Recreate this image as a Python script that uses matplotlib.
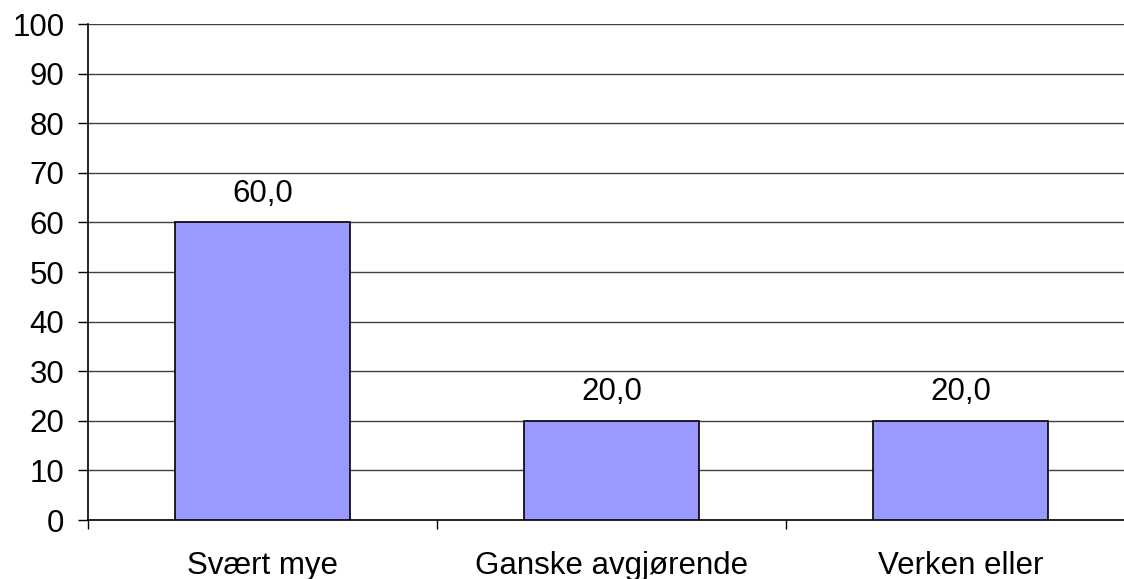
import matplotlib.pyplot as plt

categories = ["Svært mye", "Ganske avgjørende", "Verken eller"]
values = [60.0, 20.0, 20.0]
y_ticks = [0, 10, 20, 30, 40, 50, 60, 70, 80, 90, 100]

plt.rcParams['font.family'] = ['Liberation Sans', 'DejaVu Sans']
FS = 22.5

fig = plt.figure(figsize=(11.24, 5.79), dpi=100)
ax = fig.add_axes([88 / 1124, 59 / 579, 1047 / 1124, 496 / 579])

x = list(range(len(categories)))
bars = ax.bar(x, values, width=0.5, color="#9999ff", edgecolor="black",
              linewidth=1.2, zorder=3)

for b, v in zip(bars, values):
    ax.annotate(f"{v:.1f}".replace(".", ","),
                (b.get_x() + b.get_width() / 2, b.get_height()),
                xytext=(0, 10), textcoords="offset points",
                ha="center", va="bottom", fontsize=FS)

ax.set_xlim(-0.5, len(categories) - 0.5)
ax.set_ylim(0, 100)
ax.set_yticks(y_ticks)
ax.yaxis.grid(True, color="#404040", linewidth=1, zorder=0)

# category separators as x ticks, labels centred under bars
ax.set_xticks([i - 0.5 for i in range(len(categories) + 1)])
ax.set_xticklabels([])
ax.set_xticks(x, minor=True)
ax.set_xticklabels(categories, minor=True, fontsize=FS)
ax.tick_params(axis="x", which="minor", length=0, pad=22)
ax.tick_params(axis="x", which="major", length=6.5, width=1, direction="out")
ax.tick_params(axis="y", length=7, width=1, labelsize=FS, pad=10)

for side in ["top", "right"]:
    ax.spines[side].set_visible(False)
ax.spines["left"].set_linewidth(1.2)
ax.spines["bottom"].set_linewidth(1.2)

fig.savefig("out.png", dpi=100)
